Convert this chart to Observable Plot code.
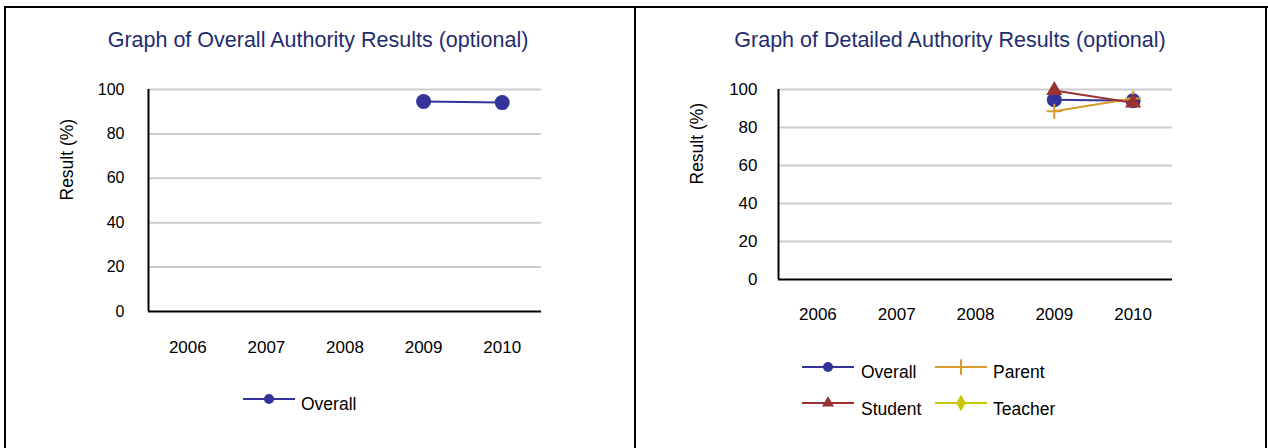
<!DOCTYPE html>
<html>
<head>
<meta charset="utf-8">
<script src="https://cdn.jsdelivr.net/npm/d3@7"></script>
<script src="https://cdn.jsdelivr.net/npm/@observablehq/plot@0.6"></script>
<style>
  body { margin: 0; background: #fff; }
  #page { position: relative; width: 1268px; height: 448px; overflow: hidden; background: #fff;
          font-family: "Liberation Sans", Arial, sans-serif; }
  .border { position: absolute; background: #000; z-index: 5; }
  .title { position: absolute; top: 28px; font-size: 21.5px; color: #1f2d6e; white-space: nowrap;
           transform: translateX(-50%); line-height: 24px; }
  .chart { position: absolute; top: 0; }
  .swatch { position: absolute; }
  .legend-label { position: absolute; font-size: 17.5px; line-height: 20px; color: #000; white-space: nowrap; }
</style>
</head>
<body>
<div id="page">
  <div class="border" style="left:4px;top:6px;width:2px;height:442px"></div>
  <div class="border" style="left:4px;top:6px;width:1264px;height:2px"></div>
  <div class="border" style="left:634px;top:6px;width:2px;height:442px"></div>
  <div class="border" style="left:1265px;top:6px;width:2px;height:442px"></div>
  <div class="title" style="left:318px">Graph of Overall Authority Results (optional)</div>
  <div class="title" style="left:950px">Graph of Detailed Authority Results (optional)</div>
  <div id="left" class="chart" style="left:0px"></div>
  <div id="right" class="chart" style="left:635px"></div>
</div>
<script>
// Survey years and the percentage results per respondent group
const years = [2006, 2007, 2008, 2009, 2010];
const yTicks = [0, 20, 40, 60, 80, 100];
const gridLines = [20, 40, 60, 80, 100];
const overall = [null, null, null, 94.6, 94.1];
const parent = [null, null, null, 88.5, 95.3];
const student = [null, null, null, 99.5, 93.0];
const teacher = [null, null, null, null, null];
const yLabel = "Result (%)";

const colors = { Overall: "#333399", Parent: "#d99b2b", Student: "#993333", Teacher: "#c8c800" };

const seriesOverall = { name: "Overall", values: overall, symbol: "circle", r: 7.5, filled: true };
const seriesParent = { name: "Parent", values: parent, symbol: "plus", r: 5, filled: false };
const seriesStudent = { name: "Student", values: student, symbol: "triangle", r: 6, filled: true };
const seriesTeacher = { name: "Teacher", values: teacher, symbol: "diamond", r: 6, filled: true };

const font = '"Liberation Sans", Arial, sans-serif';

function seriesMarks(s) {
  const rows = years.map((year, i) => ({ year, value: s.values[i] }));
  const c = colors[s.name];
  return [
    Plot.line(rows, { x: "year", y: "value", stroke: c, strokeWidth: 2 }),
    Plot.dot(rows, s.filled
      ? { x: "year", y: "value", r: s.r, symbol: s.symbol, fill: c, stroke: "none" }
      : { x: "year", y: "value", r: s.r, symbol: s.symbol, stroke: c, strokeWidth: 2, fill: "none" })
  ];
}

function chart({ width, marginLeft, marginRight, marginBottom, padY, padX, ySize, series }) {
  const xStart = years[0] - 0.5, xEnd = years[years.length - 1] + 0.5;
  return Plot.plot({
    width, height: 448,
    marginTop: 89, marginLeft, marginRight, marginBottom,
    style: { fontSize: "17px", fontFamily: font, background: "transparent", color: "#000", overflow: "visible" },
    x: { domain: [xStart, xEnd], axis: null },
    y: { domain: [0, 100], axis: null },
    marks: [
      Plot.ruleY(gridLines, { stroke: "#cccccc", strokeWidth: 2 }),
      Plot.ruleY([0], { stroke: "#000", strokeWidth: 2 }),
      Plot.ruleX([xStart], { y1: 0, y2: 100, stroke: "#000", strokeWidth: 2 }),
      Plot.axisX({ ticks: years, tickFormat: d => String(d), tickSize: 0, tickPadding: padX, label: null, fontSize: 17 }),
      Plot.axisY({ ticks: yTicks, tickSize: 0, tickPadding: padY, label: null, fontSize: ySize }),
      Plot.text([yLabel], { frameAnchor: "left", rotate: -90, dx: -81, fontSize: 17.5, fill: "#000" }),
      ...series.flatMap(seriesMarks)
    ]
  });
}

document.getElementById("left").append(chart({
  width: 635, marginLeft: 148, marginRight: 94, marginBottom: 137, padY: 24, padX: 29, ySize: 16,
  series: [seriesOverall]
}));

document.getElementById("right").append(chart({
  width: 633, marginLeft: 143, marginRight: 96, marginBottom: 169, padY: 21, padX: 28, ySize: 17,
  series: [seriesOverall, seriesParent, seriesStudent, seriesTeacher]
}));

// Legend swatches: a line with the series marker at its middle
const symbolTypes = { circle: d3.symbolCircle, plus: d3.symbolPlus, triangle: d3.symbolTriangle, diamond: d3.symbolDiamond };
const legendMarker = { circle: 5, plus: 5, triangle: 4.5, diamond: 5 };

function legendItem(s, lineX, lineY, textX, textY) {
  const page = document.getElementById("page");
  const c = colors[s.name];
  const w = 52, h = 16;
  const svg = d3.create("svg").attr("class", "swatch").attr("width", w).attr("height", h)
    .style("left", lineX + "px").style("top", (lineY - h / 2) + "px").style("overflow", "visible");
  svg.append("line").attr("x1", 0).attr("x2", w).attr("y1", h / 2).attr("y2", h / 2)
    .attr("stroke", c).attr("stroke-width", 2);
  const r = legendMarker[s.symbol];
  const path = d3.symbol(symbolTypes[s.symbol], Math.PI * r * r)();
  const p = svg.append("path").attr("d", path).attr("transform", `translate(${w / 2},${h / 2})`);
  if (s.filled) p.attr("fill", c); else p.attr("fill", "none").attr("stroke", c).attr("stroke-width", 2);
  page.append(svg.node());
  const label = document.createElement("div");
  label.className = "legend-label";
  label.textContent = s.name;
  label.style.left = textX + "px";
  label.style.top = (textY - 10) + "px";
  page.append(label);
}

legendItem(seriesOverall, 243, 399, 301, 404);
legendItem(seriesOverall, 802, 367, 861, 372);
legendItem(seriesParent, 935, 367, 993, 372);
legendItem(seriesStudent, 802, 403, 861, 409);
legendItem(seriesTeacher, 935, 403, 993, 409);
</script>
</body>
</html>
